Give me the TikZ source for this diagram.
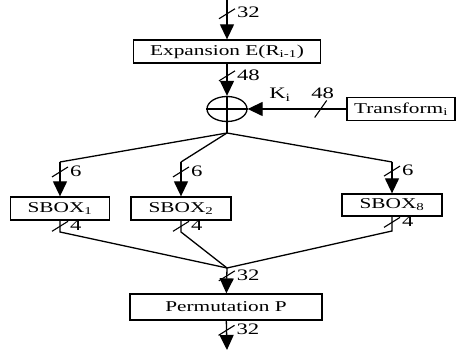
\documentclass[tikz,border=0pt]{standalone}
\usepackage{fontspec}
\setmainfont{Liberation Serif}[FakeStretch=1.42]
\usetikzlibrary{arrows.meta,shapes.geometric}

\tikzset{
  box/.style={draw, minimum height=23pt, inner sep=0pt, font=\fontsize{15}{17}\selectfont},
  arr/.style={-{Triangle[width=14pt,length=15pt]}},
  lbl/.style={font=\fontsize{16}{18}\selectfont, inner sep=1.5pt},
  bus/.style={line width=1.1pt},
}

\begin{document}
\begin{tikzpicture}[x=1pt,y=1pt,line width=1.3pt]
\useasboundingbox (0,0) rectangle (464,350);
% blocks
\coordinate (in) at (227,350);
\node[box, minimum width=187pt] (exp) at (227,298.5) {Expansion E(R\textsubscript{i-1})};
\node[draw, ellipse, minimum width=40pt, minimum height=25pt, inner sep=0pt] (xor) at (227,241) {};
\node[box, minimum width=108pt] (tr) at (401,241) {Transform\textsubscript{i}};
\coordinate (br) at (227,217);
\coordinate (c1) at (60,188);
\coordinate (c2) at (181,188);
\coordinate (c8) at (392,188);
\node[box, minimum width=99pt] (s1) at (60,141.5) {SBOX\textsubscript{1}};
\node[box, minimum width=100pt] (s2) at (181,141.5) {SBOX\textsubscript{2}};
\node[box, minimum width=100pt, minimum height=22pt] (s8) at (392,145) {SBOX\textsubscript{8}};
\coordinate (d1) at (60,118);
\coordinate (d2) at (181,118);
\coordinate (d8) at (392,119);
\coordinate (m) at (227,82);
\node[box, minimum width=192pt, minimum height=26pt] (perm) at (226,43) {Permutation P};
\coordinate (out) at (227,0);

% connectors
\draw[arr] (in) -- coordinate[pos=.35] (b0) (exp);
\draw[arr] (exp) -- coordinate[pos=.38] (b1) (xor);
\draw (xor.west) -- (xor.east);
\draw (xor.north) -- (br);
\draw[arr] (tr) -- coordinate[pos=.26] (bk) (xor);
\node[lbl] (ki) at (280,255) {K\textsubscript{i}};
\draw (br) -- (c1);
\draw (br) -- (c2);
\draw (br) -- (c8);
\draw[arr] (c1) -- coordinate[pos=.29] (e1) (s1);
\draw[arr] (c2) -- coordinate[pos=.29] (e2) (s2);
\draw[arr] (c8) -- coordinate[pos=.29] (e8) (s8);
\draw (s1) -- coordinate[pos=.5] (f1) (d1) -- (m);
\draw (s2) -- coordinate[pos=.5] (f2) (d2) -- (m);
\draw (s8) -- coordinate[pos=.4] (f8) (d8) -- (m);
\draw[arr] (m) -- coordinate[pos=.31] (b2) (perm);
\draw[arr] (perm) -- coordinate[pos=.33] (b3) (out);

% bus widths
\draw[bus] (b0) +(-8,-5) -- +(8,5) node[lbl, anchor=west, yshift=-4pt] {32};
\draw[bus] (b1) +(-8,-5) -- +(8,5) node[lbl, anchor=west, yshift=-4pt] {48};
\draw[bus] (bk) +(-6,-8.5) -- +(6,8.5) node[lbl, anchor=south, xshift=-4pt] {48};
\draw[bus] (e1) +(-8,-5) -- +(8,5) node[lbl, anchor=west, yshift=-4pt] {6};
\draw[bus] (e2) +(-8,-5) -- +(8,5) node[lbl, anchor=west, yshift=-4pt] {6};
\draw[bus] (e8) +(-8,-5) -- +(8,5) node[lbl, anchor=west, yshift=-4pt] {6};
\draw[bus] (f1) +(-8,-5) -- +(8,5) node[lbl, anchor=west, yshift=-4pt] {4};
\draw[bus] (f2) +(-8,-5) -- +(8,5) node[lbl, anchor=west, yshift=-4pt] {4};
\draw[bus] (f8) +(-8,-5) -- +(8,5) node[lbl, anchor=west, yshift=-4pt] {4};
\draw[bus] (b2) +(-8,-5) -- +(8,5) node[lbl, anchor=west, yshift=-4pt] {32};
\draw[bus] (b3) +(-8,-5) -- +(8,5) node[lbl, anchor=west, yshift=-4pt] {32};
\end{tikzpicture}
\end{document}
